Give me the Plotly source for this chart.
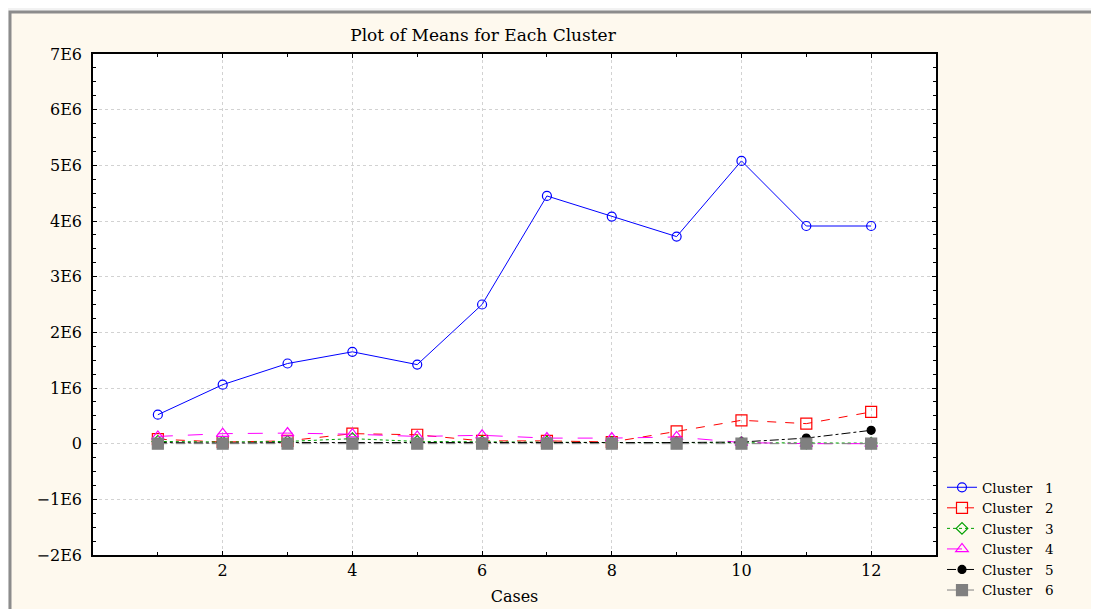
import plotly.graph_objects as go

cases = [1, 2, 3, 4, 5, 6, 7, 8, 9, 10, 11, 12]
cluster1 = [0.52e6, 1.06e6, 1.44e6, 1.65e6, 1.42e6, 2.50e6, 4.45e6, 4.08e6, 3.72e6, 5.08e6, 3.91e6, 3.91e6]
cluster2 = [0.08e6, 0.03e6, 0.05e6, 0.18e6, 0.16e6, 0.05e6, 0.05e6, 0.03e6, 0.22e6, 0.42e6, 0.36e6, 0.57e6]
cluster3 = [0.04e6, 0.03e6, 0.04e6, 0.09e6, 0.04e6, 0.03e6, 0.03e6, 0.02e6, 0.02e6, 0.02e6, 0.01e6, 0.01e6]
cluster4 = [0.13e6, 0.18e6, 0.19e6, 0.17e6, 0.13e6, 0.15e6, 0.10e6, 0.10e6, 0.12e6, 0.02e6, 0.0, 0.0]
cluster5 = [0.02e6, 0.01e6, 0.02e6, 0.02e6, 0.01e6, 0.02e6, 0.02e6, 0.01e6, 0.02e6, 0.03e6, 0.10e6, 0.24e6]
cluster6 = [0.0] * 12

names = ["Cluster\u00a0\u00a0\u00a01", "Cluster\u00a0\u00a0\u00a02", "Cluster\u00a0\u00a0\u00a03",
         "Cluster\u00a0\u00a0\u00a04", "Cluster\u00a0\u00a0\u00a05", "Cluster\u00a0\u00a0\u00a06"]
series = [cluster1, cluster2, cluster3, cluster4, cluster5, cluster6]
colors = ["#0000FF", "#FF0000", "#00A000", "#FF00FF", "#000000", "#808080"]
dashes = ["solid", "dash", "dot", "longdash", "dashdot", "dash"]
symbols = ["circle-open", "square-open", "diamond-open", "triangle-up-open", "circle", "square"]
sizes = [9, 11, 9, 11, 8, 11]

y_ticks = [7e6, 6e6, 5e6, 4e6, 3e6, 2e6, 1e6, 0, -1e6, -2e6]
y_text = ["7E6", "6E6", "5E6", "4E6", "3E6", "2E6", "1E6", "0", "\u22121E6", "\u22122E6"]
x_ticks = [2, 4, 6, 8, 10, 12]

fig = go.Figure()
for nm, s, c, d, sym, sz in zip(names, series, colors, dashes, symbols, sizes):
    fig.add_trace(go.Scatter(
        x=cases, y=s, name=nm, mode="lines+markers",
        line=dict(color=c, width=1, dash=d),
        marker=dict(symbol=sym, size=sz, color=c, line=dict(color=c, width=1.2)),
    ))

O = 8  # page body margin
W, H = 1099 - O, 609 - O
L, R, T, B = 93 - O, 936 - O, 54 - O, 555 - O
def px(xs):
    return (xs - O - L) / (R - L)
def py(ys):
    return (B - (ys - O)) / (B - T)

shapes = [
    dict(type="rect", xref="paper", yref="paper", x0=px(10), x1=px(1097), y0=py(640), y1=py(12),
         fillcolor="#FEF9EE", line=dict(color="#8C8C8C", width=3), layer="below"),
    dict(type="rect", xref="paper", yref="paper", x0=0, x1=1, y0=0, y1=1,
         fillcolor="#FFFFFF", line=dict(width=0), layer="below"),
]

ff = "DejaVu Serif"
blk = "#000000"
fig.update_layout(
    width=W, height=H,
    margin=dict(l=L, r=W - R, t=T, b=H - B, autoexpand=False),
    paper_bgcolor="#F2F2F2",
    plot_bgcolor="#FFFFFF",
    shapes=shapes,
    title=dict(text="Plot of Means for Each Cluster", x=px(483), xanchor="center", xref="paper",
               y=1 - (35 - O) / H, yanchor="middle",
               font=dict(family=ff, size=17, color=blk)),
    showlegend=True,
    legend=dict(x=px(942), y=py(472), xanchor="left", yanchor="top",
                bgcolor="rgba(0,0,0,0)", font=dict(family=ff, size=13.5, color=blk),
                itemwidth=30, tracegroupgap=0),
    xaxis=dict(range=[0, 13], tickvals=x_ticks, ticktext=[str(v) for v in x_ticks],
               showgrid=True, gridcolor="#D2D2D2", griddash="dot", gridwidth=1,
               zeroline=False, showline=True, linecolor=blk, linewidth=1.5, mirror="ticks",
               ticks="inside", ticklen=4, tickcolor=blk,
               minor=dict(dtick=1, tick0=0, ticks="inside", ticklen=3, tickcolor=blk, showgrid=False),
               tickfont=dict(family=ff, size=16, color=blk),
               title=dict(text="Cases", font=dict(family=ff, size=16, color=blk), standoff=12)),
    yaxis=dict(range=[-2e6, 7e6], tickvals=y_ticks, ticktext=y_text,
               showgrid=True, gridcolor="#D2D2D2", griddash="dot", gridwidth=1,
               zeroline=False, showline=True, linecolor=blk, linewidth=1.5, mirror="ticks",
               ticks="inside", ticklen=4, tickcolor=blk, ticklabelstandoff=6,
               minor=dict(dtick=250000, tick0=0, ticks="inside", ticklen=3, tickcolor=blk, showgrid=False),
               tickfont=dict(family=ff, size=16, color=blk)),
)

fig.write_html("out.html")
